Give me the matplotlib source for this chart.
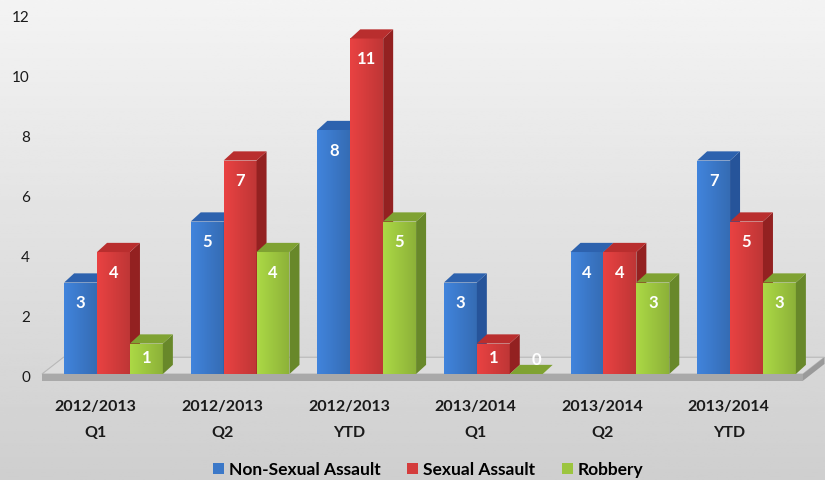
import numpy as np
import matplotlib
matplotlib.use("Agg")
import matplotlib.pyplot as plt
from matplotlib.patches import Polygon, Patch
from matplotlib.colors import to_rgb

plt.rcParams['font.family'] = ['Lato', 'DejaVu Sans']

categories = [("2012/2013", "Q1"), ("2012/2013", "Q2"), ("2012/2013", "YTD"),
              ("2013/2014", "Q1"), ("2013/2014", "Q2"), ("2013/2014", "YTD")]
series = ["Non-Sexual Assault", "Sexual Assault", "Robbery"]
non_sexual = [3, 5, 8, 3, 4, 7]
sexual = [4, 7, 11, 1, 4, 5]
robbery = [1, 4, 5, 0, 3, 3]
yticks = [0, 2, 4, 6, 8, 10, 12]

# front / side / top colours per series
colors = [("#3b78c8", "#26549a", "#2d62ae"),
          ("#d43c3c", "#932121", "#b92e2e"),
          ("#9cc53f", "#68882a", "#7fa232")]

W = 0.26      # bar width
DX = 0.079    # depth offset x
DY = 0.30     # depth offset y


def shade(c, f):
    return np.clip(np.array(to_rgb(c)) * f, 0, 1)


def draw_bar(ax, c, v, cols):
    front, side, top = cols
    x0, x1 = c - W / 2, c + W / 2
    if v > 0:
        poly = Polygon([(x0, 0), (x1, 0), (x1, v), (x0, v)], closed=True,
                       facecolor=front, edgecolor='none', zorder=3)
        ax.add_patch(poly)
        grad = np.linspace(1.1, 0.9, 40)
        img = np.array([[shade(front, g) for g in grad]])
        im = ax.imshow(img, extent=(x0, x1, 0, v), aspect='auto', zorder=3,
                       interpolation='bilinear')
        im.set_clip_path(poly)
        ax.add_patch(Polygon([(x1, 0), (x1 + DX, DY), (x1 + DX, v + DY), (x1, v)],
                             closed=True, facecolor=side, edgecolor='none', zorder=3))
    ax.add_patch(Polygon([(x0, v), (x1, v), (x1 + DX, v + DY), (x0 + DX, v + DY)],
                         closed=True, facecolor=top, edgecolor='none', zorder=3))


fig = plt.figure(figsize=(8.25, 4.81), dpi=100)
ax = fig.add_axes([0, 0, 1, 1])
x_lo, x_hi = -0.8965, 5.62
y_lo, y_hi = -3.475, 12.295
ax.set_xlim(x_lo, x_hi)
ax.set_ylim(y_lo, y_hi)
ax.axis('off')

# background gradient
bg = np.linspace(0.955, 0.81, 200)[:, None] * np.ones((200, 2))
ax.imshow(bg, cmap='gray', vmin=0, vmax=1, extent=(x_lo, x_hi, y_lo, y_hi),
          aspect='auto', zorder=0)

# floor
fl, fr = -0.565, 5.446
fdx, fdy, th = 0.17, 0.55, 0.22
ax.add_patch(Polygon([(fl, 0), (fr, 0), (fr + fdx, fdy), (fl + fdx, fdy)], closed=True,
                     facecolor="#dcdcdc", edgecolor="#b8b8b8", lw=0.8, zorder=1))
ax.add_patch(Polygon([(fl, 0), (fr, 0), (fr, -th), (fl, -th)], closed=True,
                     facecolor="#a9a9a9", edgecolor='none', zorder=1))
ax.add_patch(Polygon([(fr, 0), (fr + fdx, fdy), (fr + fdx, fdy - th), (fr, -th)], closed=True,
                     facecolor="#9a9a9a", edgecolor='none', zorder=1))

data = [non_sexual, sexual, robbery]
x = np.arange(len(categories))
for i in x:
    for k, vals in enumerate(data):
        c = i + (k - 1) * W
        v = vals[i]
        draw_bar(ax, c, v, colors[k])
        if v >= 2:
            ly, lx = v - 0.65, c
        elif v == 1:
            ly, lx = 0.55, c
        else:
            ly, lx = 0.5, c + 0.08
        ax.text(lx, ly, str(v), color='white', fontsize=12, fontweight='bold',
                ha='center', va='center', zorder=5)

# value axis labels sit on the back wall, slightly compressed
for t in yticks:
    ax.text(-0.66, t * 0.984 - 0.1, str(t), ha='right', va='center', fontsize=11,
            color='#1a1a1a')

for i, (l1, l2) in enumerate(categories):
    ax.text(i - 0.14, -1.05, l1, ha='center', va='center', fontsize=11.5,
            fontweight='bold', color='#1a1a1a')
    ax.text(i - 0.14, -1.90, l2, ha='center', va='center', fontsize=11.5,
            fontweight='bold', color='#1a1a1a')

handles = [Patch(facecolor=colors[k][0], edgecolor='none', label=series[k]) for k in range(3)]
fig.legend(handles=handles, loc='center', bbox_to_anchor=(0.519, 0.022), ncol=3,
           frameon=False, handlelength=0.65, handleheight=0.65, handletextpad=0.3,
           columnspacing=1.5, prop={'weight': 'bold', 'size': 12.5})

fig.savefig("out.png", dpi=100)
